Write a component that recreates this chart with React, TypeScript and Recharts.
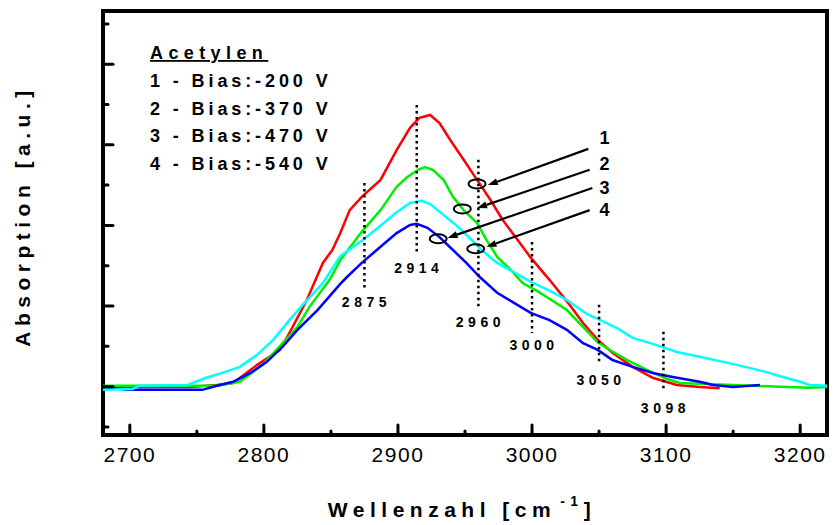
import { LineChart, Line, XAxis, YAxis, ReferenceArea, ReferenceLine, ReferenceDot } from 'recharts'

const FONT = '"Liberation Sans", Arial, Helvetica, sans-serif'

// Wellenzahl (cm-1) / Absorption (a.u.) je Kurve
const redWave = [2680, 2745, 2765, 2777, 2795, 2812, 2819, 2832, 2844, 2851, 2857, 2864, 2873, 2887, 2899, 2909, 2916, 2924, 2931, 2939, 2949, 2959, 2969, 2978, 2989, 2999, 3013, 3028, 3038, 3049, 3060, 3075, 3090, 3108, 3125, 3140]
const redAbs = [0.99, 0.99, 1.04, 1.09, 1.54, 1.91, 2.33, 3.15, 4.07, 4.39, 4.81, 5.38, 5.71, 6.13, 6.87, 7.42, 7.67, 7.74, 7.54, 7.12, 6.63, 6.13, 5.63, 5.14, 4.65, 4.2, 3.65, 3.03, 2.58, 2.16, 1.84, 1.49, 1.22, 1.04, 0.99, 0.96]

const greenWave = [2680, 2765, 2782, 2799, 2814, 2825, 2834, 2849, 2857, 2873, 2887, 2899, 2907, 2915, 2920, 2926, 2934, 2941, 2949, 2959, 2966, 2974, 2984, 2993, 3004, 3013, 3026, 3038, 3049, 3058, 3071, 3086, 3101, 3110, 3150, 3190, 3207, 3220]
const greenAbs = [1.02, 1.02, 1.12, 1.54, 2.08, 2.48, 2.98, 3.65, 4.14, 4.84, 5.38, 5.96, 6.2, 6.38, 6.45, 6.38, 6.13, 5.71, 5.38, 5.06, 4.64, 4.22, 3.9, 3.57, 3.37, 3.18, 2.9, 2.48, 2.1, 1.91, 1.66, 1.41, 1.19, 1.09, 1.04, 0.99, 0.97, 0.99]

const cyanWave = [2680, 2702, 2707, 2743, 2757, 2769, 2782, 2795, 2807, 2819, 2829, 2844, 2857, 2873, 2887, 2899, 2909, 2918, 2924, 2934, 2944, 2954, 2963, 2974, 2986, 2999, 3013, 3026, 3041, 3051, 3063, 3075, 3093, 3108, 3125, 3146, 3163, 3175, 3187, 3200, 3207, 3220]
const cyanAbs = [0.92, 0.94, 1.02, 1.04, 1.22, 1.34, 1.49, 1.79, 2.16, 2.65, 3.03, 3.57, 4.24, 4.62, 4.99, 5.33, 5.56, 5.61, 5.53, 5.26, 4.99, 4.67, 4.37, 4.07, 3.85, 3.6, 3.38, 3.15, 2.8, 2.65, 2.46, 2.21, 2.03, 1.86, 1.74, 1.59, 1.46, 1.36, 1.24, 1.12, 1.04, 1.02]

const blueWave = [2680, 2698, 2754, 2765, 2777, 2790, 2802, 2814, 2825, 2840, 2857, 2862, 2873, 2887, 2899, 2909, 2914, 2922, 2931, 2941, 2951, 2961, 2974, 2989, 2999, 3013, 3026, 3038, 3049, 3060, 3075, 3090, 3105, 3125, 3135, 3150, 3170]
const blueAbs = [0.99, 0.92, 0.92, 1.02, 1.12, 1.34, 1.61, 1.99, 2.41, 2.9, 3.55, 3.72, 4.07, 4.47, 4.81, 5.01, 5.04, 4.94, 4.71, 4.39, 4.07, 3.72, 3.33, 3.03, 2.83, 2.65, 2.41, 2.08, 1.91, 1.66, 1.49, 1.34, 1.24, 1.12, 1.04, 0.99, 1.04]

const xTicks = [2700, 2750, 2800, 2850, 2900, 2950, 3000, 3050, 3100, 3150, 3200]
const yTicks = [0, 1, 2, 3, 4, 5, 6, 7, 8, 9, 10]

const legendTitle = 'Acetylen'
const legendLines = ['1 - Bias:-200 V', '2 - Bias:-370 V', '3 - Bias:-470 V', '4 - Bias:-540 V']

// gepunktete Markierungen
const peakWave = [2875, 2914, 2960, 3000, 3050, 3098]
const peakTop = [6.05, 7.99, 6.63, 4.59, 3.03, 2.36]
const peakBottom = [3.4, 4.29, 2.95, 2.33, 1.54, 0.87]
const peakLabelAbs = [3.1, 3.95, 2.6, 2.03, 1.17, 0.47]

// Pfeile 1-4
const arrowLabels = ['1', '2', '3', '4']
const arrowLabelWave = 3054
const arrowLabelAbs = [7.17, 6.53, 5.93, 5.38]
const arrowFromWave = [3042, 3043, 3045, 3043]
const arrowFromAbs = [6.9, 6.38, 5.93, 5.38]
const arrowToWave = [2967, 2959, 2937, 2966]
const arrowToAbs = [6.0, 5.43, 4.69, 4.47]
const markerWave = [2959, 2948, 2930, 2958]
const markerAbs = [6.03, 5.41, 4.67, 4.42]

const toPoints = (ws: number[], as: number[]) => ws.map((w, i) => ({ w, a: as[i] }))

const series = [
  { name: '1', color: '#ff0000', data: toPoints(redWave, redAbs) },
  { name: '2', color: '#00ee00', data: toPoints(greenWave, greenAbs) },
  { name: '4', color: '#0000ff', data: toPoints(blueWave, blueAbs) },
  { name: '3', color: '#00ffff', data: toPoints(cyanWave, cyanAbs) },
]

function XTick({ x, y, payload }: any) {
  const major = payload.value % 100 === 0
  return (
    <g>
      <line x1={x} y1={y} x2={x} y2={y - (major ? 10 : 4)} stroke="#000" strokeWidth={3} strokeLinecap="round" />
      {major && (
        <text x={x} y={y + 27} textAnchor="middle" fontSize={21} letterSpacing={1.5} fontFamily={FONT} fill="#000">
          {payload.value}
        </text>
      )}
    </g>
  )
}

function YTick({ x, y, payload }: any) {
  const major = payload.value % 2 === 1
  return <line x1={x} y1={y} x2={x + (major ? 10 : 5)} y2={y} stroke="#000" strokeWidth={3} strokeLinecap="round" />
}

function Arrow({ x1, y1, x2, y2 }: any) {
  const ang = Math.atan2(y2 - y1, x2 - x1)
  const c = Math.cos(ang)
  const s = Math.sin(ang)
  const bx = x2 - 10 * c
  const by = y2 - 10 * s
  return (
    <g>
      <line x1={x1} y1={y1} x2={bx} y2={by} stroke="#000" strokeWidth={2.2} />
      <polygon points={`${x2},${y2} ${bx + 3.5 * s},${by - 3.5 * c} ${bx - 3.5 * s},${by + 3.5 * c}`} fill="#000" />
    </g>
  )
}

export default function App() {
  return (
    <div style={{ position: 'absolute', left: 0, top: 0, width: 835, height: 525, background: '#fff' }}>
      <LineChart width={835} height={525} margin={{ top: 11, right: 8, bottom: 89, left: 102 }}>
        <XAxis
          type="number"
          dataKey="w"
          domain={[2680, 3220]}
          allowDataOverflow
          ticks={xTicks}
          interval={0}
          height={1}
          axisLine={false}
          tickLine={false}
          tickSize={0}
          tickMargin={0}
          tick={<XTick />}
        />
        <YAxis
          type="number"
          domain={[-0.2, 10.32]}
          allowDataOverflow
          ticks={yTicks}
          interval={0}
          width={1}
          axisLine={false}
          tickLine={false}
          tickSize={0}
          tickMargin={0}
          tick={<YTick />}
        />
        {series.map((s) => (
          <Line
            key={s.name}
            data={s.data}
            dataKey="a"
            type="linear"
            stroke={s.color}
            strokeWidth={2.5}
            dot={false}
            isAnimationActive={false}
          />
        ))}
        {peakWave.map((w, i) => (
          <ReferenceLine
            key={'p' + w}
            segment={[{ x: w, y: peakTop[i] }, { x: w, y: peakBottom[i] }]}
            stroke="#000"
            strokeWidth={2.5}
            strokeDasharray="2.5 3.5"
          />
        ))}
        {peakWave.map((w, i) => (
          <ReferenceDot
            key={'pl' + w}
            x={w}
            y={peakLabelAbs[i]}
            shape={(p: any) => (
              <text x={p.cx + 2} y={p.cy} textAnchor="middle" dominantBaseline="central" fontSize={14} fontWeight="bold" letterSpacing={4.5} fontFamily={FONT} fill="#000">
                {w}
              </text>
            )}
          />
        ))}
        {arrowLabels.map((lab, i) => (
          <ReferenceLine
            key={'a' + lab}
            segment={[{ x: arrowFromWave[i], y: arrowFromAbs[i] }, { x: arrowToWave[i], y: arrowToAbs[i] }]}
            shape={<Arrow />}
          />
        ))}
        {arrowLabels.map((lab, i) => (
          <ReferenceDot
            key={'m' + lab}
            x={markerWave[i]}
            y={markerAbs[i]}
            shape={(p: any) => <ellipse cx={p.cx} cy={p.cy} rx={8.5} ry={4.5} fill="none" stroke="#000" strokeWidth={2} />}
          />
        ))}
        {arrowLabels.map((lab, i) => (
          <ReferenceDot
            key={'l' + lab}
            x={arrowLabelWave}
            y={arrowLabelAbs[i]}
            shape={(p: any) => (
              <text x={p.cx} y={p.cy} textAnchor="middle" dominantBaseline="central" fontSize={18} fontWeight="bold" fontFamily={FONT} fill="#000">
                {lab}
              </text>
            )}
          />
        ))}
        <ReferenceArea x1={2680} x2={3220} y1={-0.2} y2={10.32} fill="none" stroke="#000" strokeWidth={4} ifOverflow="visible" />

        <text x={150} y={59} fontSize={18} fontWeight="bold" letterSpacing={5.4} fontFamily={FONT} textDecoration="underline" fill="#000">
          {legendTitle}
        </text>
        {legendLines.map((t, i) => (
          <text key={t} x={150} y={87 + i * 27.7} fontSize={18} fontWeight="bold" letterSpacing={3.9} fontFamily={FONT} fill="#000">
            {t}
          </text>
        ))}
        <text x={462} y={517} textAnchor="middle" fontSize={21} fontWeight="bold" letterSpacing={5.5} fontFamily={FONT} fill="#000">
          Wellenzahl [cm
          <tspan dx={4} dy={-11} fontSize={14}>-1</tspan>
          <tspan dy={11}>]</tspan>
        </text>
        <text transform="rotate(-90)" x={-216} y={30} textAnchor="middle" fontSize={21} fontWeight="bold" letterSpacing={5.5} fontFamily={FONT} fill="#000">
          Absorption [a.u.]
        </text>
      </LineChart>
    </div>
  )
}
